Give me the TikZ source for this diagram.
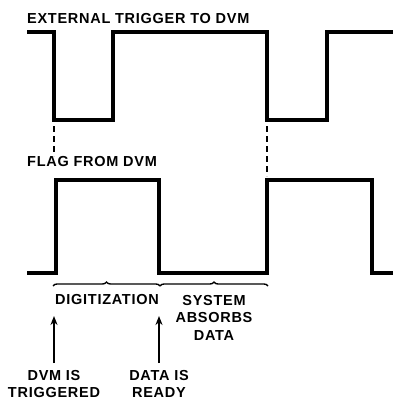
\documentclass[tikz,border=0pt]{standalone}
\usepackage{fontspec}
\setmainfont{Liberation Sans}
\newfontfamily\lblfont[LetterSpace=5]{Liberation Sans}
\usetikzlibrary{arrows.meta,positioning,decorations.pathreplacing}

\begin{document}
\begin{tikzpicture}[x=1pt, y=-1pt,
    wave/.style={line width=3.2pt, line join=miter},
    marker/.style={line width=1.3pt, dash pattern=on 6pt off 4pt},
    lbl/.style={font=\lblfont\bfseries\fontsize{14.5}{17.5}\selectfont, align=center, inner sep=0pt},
    arr/.style={-{Stealth[length=9pt, width=7pt]}, line width=1.6pt},
    brc/.style={decorate, decoration={brace, amplitude=4pt}, line width=1.4pt}
]
\useasboundingbox (0,0) rectangle (392,402);

\node[lbl, anchor=base west] (trigname) at (27,23) {EXTERNAL TRIGGER TO DVM};
\node[lbl, anchor=base west] (flagname) at (27,166) {FLAG FROM DVM};

\draw[wave] (27,32) -- (54,32) -- (54,120) -- (113,120) -- (113,32) -- (267,32)
    -- (267,120) -- (327,120) -- (327,32) -- (393,32);
\draw[wave] (27,273) -- (56,273) -- (56,180) -- (159,180) -- (159,273) -- (267,273)
    -- (267,180) -- (372,180) -- (372,273) -- (393,273);

\draw[marker] (54,126) -- (54,156);
\draw[marker] (267,126) -- (267,176);

\coordinate (bstart) at (53,286);
\coordinate (bmid) at (160,286);
\coordinate (bend) at (268,286);
\draw[brc] (bstart) -- (bmid);
\draw[brc] (bmid) -- (bend);

\node[lbl] (digit) at (107,300) {DIGITIZATION};
\node[lbl, anchor=north] (absorb) at (214,295) {SYSTEM\\ABSORBS\\DATA};

\node[lbl, anchor=north] (trigd) at (54,370) {DVM IS\\TRIGGERED};
\node[lbl, anchor=north] (ready) at (159,370) {DATA IS\\READY};
\coordinate (trigtip) at (54,316);
\coordinate (readytip) at (159,316);

\draw[arr] ([yshift=7pt]trigd.north) -- (trigtip);
\draw[arr] ([yshift=7pt]ready.north) -- (readytip);
\end{tikzpicture}
\end{document}
